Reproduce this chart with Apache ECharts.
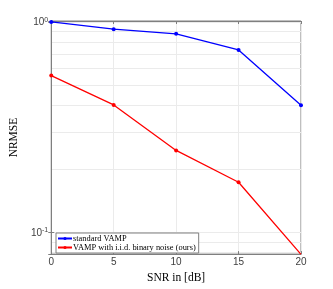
<!DOCTYPE html>
<html><head><meta charset="utf-8">
<script src="https://cdn.jsdelivr.net/npm/echarts@6/dist/echarts.min.js"></script>
<style>html,body{margin:0;padding:0;background:#fff}#c{width:333px;height:289px}</style>
</head><body><div id="c"></div>
<script>
const snr = [0, 5, 10, 15, 20];
const standardVamp = [1.0, 0.924, 0.878, 0.736, 0.402];
const binaryVamp = [0.556, 0.403, 0.245, 0.173, 0.0786];
const seriesNames = ['standard VAMP', 'VAMP with i.i.d. binary noise (ours)'];
const xTicks = [0, 5, 10, 15, 20];
const yMajor = [0.1, 1];
const yMinor = [0.08, 0.09, 0.2, 0.3, 0.4, 0.5, 0.6, 0.7, 0.8, 0.9];
const yMin = 0.0788, yMax = 1.01;

const chart = echarts.init(document.getElementById('c'));
const frame = '#7f7f7f', txt = '#404040', gridc = '#ebebeb';
function isPow(v){ const l = Math.log10(v); return Math.abs(l - Math.round(l)) < 1e-6; }
chart.setOption({
  animation: false,
  grid: {left: 43, right: 32, top: 21, bottom: 32, show: true, borderColor: frame, borderWidth: 1},
  legend: {
    orient: 'vertical', left: 56, top: 233, itemGap: 0, itemWidth: 14, itemHeight: 4,
    padding: [1, 3, 1, 1], borderColor: frame, borderWidth: 1, backgroundColor: '#fff',
    textStyle: {fontFamily: 'Liberation Serif', fontSize: 8.4, color: '#000', padding: [0,0,0,-4], lineHeight: 9},
    data: seriesNames
  },
  xAxis: [{
    type: 'value', min: 0, max: 20, interval: 5,
    name: 'SNR in [dB]', nameLocation: 'middle', nameGap: 7,
    nameTextStyle: {fontFamily: 'Liberation Serif', fontSize: 11.5, color: '#000'},
    axisLine: {lineStyle: {color: frame}},
    axisTick: {inside: true, length: 3, lineStyle: {color: frame}},
    axisLabel: {margin: 3, fontSize: 10, color: txt, fontFamily: 'Liberation Sans',
      formatter: v => xTicks.includes(v) ? String(v) : ''},
    splitLine: {show: true, lineStyle: {color: gridc}}
  }, {
    type: 'value', position: 'top', min: 0, max: 20, interval: 5,
    axisLine: {show: true, lineStyle: {color: frame}},
    axisTick: {inside: true, length: 3, lineStyle: {color: frame}},
    axisLabel: {show: false}, splitLine: {show: false}
  }],
  yAxis: [{
    type: 'log', logBase: 10, min: yMin, max: yMax,
    name: 'NRMSE', nameLocation: 'middle', nameGap: 14,
    nameTextStyle: {fontFamily: 'Liberation Serif', fontSize: 11.5, color: '#000'},
    axisLine: {show: true, lineStyle: {color: frame}},
    axisTick: {inside: true, length: 3, lineStyle: {color: frame}},
    axisLabel: {margin: 3, color: txt, fontFamily: 'Liberation Sans',
      showMinLabel: true, showMaxLabel: true,
      formatter: v => isPow(v) ? '{b|10}{s|' + Math.round(Math.log10(v)) + '}' : '',
      rich: {b: {fontSize: 10, color: txt, lineHeight: 11, verticalAlign: 'bottom'},
             s: {fontSize: 7, color: txt, lineHeight: 11, verticalAlign: 'top'}}},
    splitLine: {show: true, lineStyle: {color: gridc}}
  }, {
    type: 'log', logBase: 10, min: yMin, max: yMax, position: 'right',
    axisLine: {show: true, lineStyle: {color: frame}},
    axisTick: {inside: true, length: 3, lineStyle: {color: frame}},
    axisLabel: {show: false}, splitLine: {show: false}
  }],
  series: [{
    type: 'line', name: 'grid', data: [], silent: true, z: 0,
    markLine: {silent: true, symbol: 'none', z: 0, label: {show: false}, animation: false,
      lineStyle: {color: gridc, width: 1, type: 'solid'},
      data: yMinor.map(v => ({yAxis: v}))}
  }, {
    type: 'line', name: seriesNames[0], data: snr.map((x, i) => [x, standardVamp[i]]),
    color: '#0000ff', symbol: 'circle', symbolSize: 4, lineStyle: {width: 1.3}, z: 3
  }, {
    type: 'line', name: seriesNames[1], data: snr.map((x, i) => [x, binaryVamp[i]]),
    color: '#ff0000', symbol: 'circle', symbolSize: 4, lineStyle: {width: 1.3}, z: 3
  }]
});
</script></body></html>
